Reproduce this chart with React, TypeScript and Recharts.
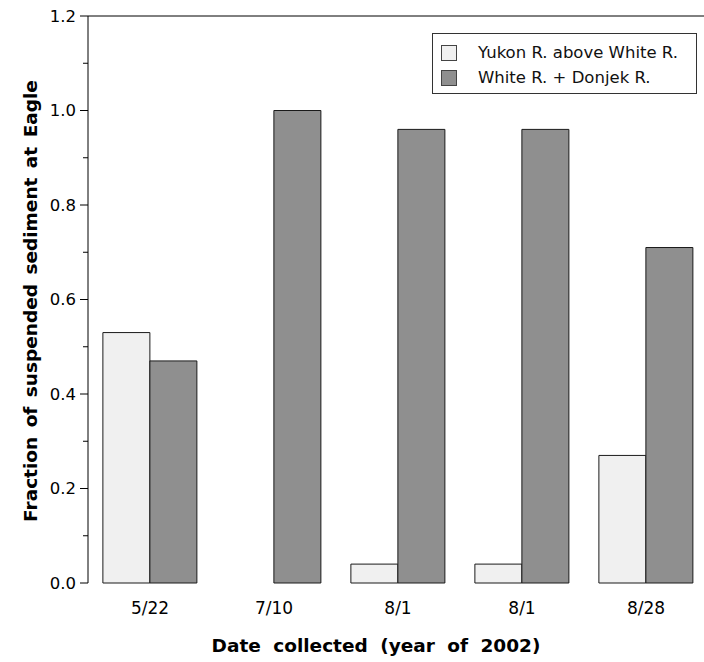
import React from 'react';
import { BarChart, Bar, XAxis, YAxis, ReferenceLine, Legend } from 'recharts';

const dates = ['5/22', '7/10', '8/1', '8/1', '8/28'];
const yukonAboveWhite = [0.53, 0, 0.04, 0.04, 0.27];
const whitePlusDonjek = [0.47, 1.0, 0.96, 0.96, 0.71];
const yTicks = [0, 0.1, 0.2, 0.3, 0.4, 0.5, 0.6, 0.7, 0.8, 0.9, 1.0, 1.1, 1.2];
const categoryEdges = [0, 1, 2, 3, 4, 5];

const data = dates.map((d, i) => ({
    date: d,
    yukon: yukonAboveWhite[i],
    white: whitePlusDonjek[i],
}));

const FONT = '"DejaVu Sans", Verdana, sans-serif';
const LIGHT = '#f0f0f0';
const DARK = '#8f8f8f';
const EDGE = '#1a1a1a';

const YTick = (props: any) => {
    const { x, y, payload } = props;
    const major = Math.round(payload.value * 10) % 2 === 0;
    return (
        <g>
            <line x1={x} x2={x - (major ? 8 : 5)} y1={y} y2={y} stroke="#000" strokeWidth={1} />
            {major && (
                <text x={x - 12} y={y} dy="0.36em" textAnchor="end" fontFamily={FONT} fontSize={16.5} fill="#000">
                    {payload.value.toFixed(1)}
                </text>
            )}
        </g>
    );
};

const LegendBox = () => (
    <div style={{
        border: '1px solid #333', background: '#fff', fontFamily: FONT, fontSize: 16.5,
        padding: '6px 8px 3px 8px', boxSizing: 'border-box', width: 265, color: '#111'
    }}>
        {[
            { name: 'Yukon R. above White R.', color: LIGHT },
            { name: 'White R. + Donjek R.', color: DARK },
        ].map((item) => (
            <div key={item.name} style={{ display: 'flex', alignItems: 'center', height: 25 }}>
                <span style={{
                    display: 'inline-block', width: 14, height: 14, background: item.color,
                    border: '1px solid #444', marginRight: 21
                }} />
                <span>{item.name}</span>
            </div>
        ))}
    </div>
);

export default function App() {
    return (
        <div style={{ position: 'absolute', left: 0, top: 0, width: 704, height: 662, overflow: 'hidden', background: '#fff' }}>
            <BarChart
                width={720}
                height={662}
                data={data}
                margin={{ top: 16, right: 12, bottom: 29, left: 28 }}
                barCategoryGap="12%"
                barGap={0}
            >
                <XAxis
                    xAxisId="edges"
                    type="number"
                    domain={[0, 5]}
                    ticks={categoryEdges}
                    allowDataOverflow
                    height={0}
                    tickSize={5}
                    tickFormatter={() => ''}
                    axisLine={{ stroke: '#000' }}
                    tickLine={{ stroke: '#000' }}
                />
                <XAxis
                    dataKey="date"
                    height={50}
                    axisLine={false}
                    tickLine={false}
                    tickSize={0}
                    tickMargin={19}
                    tick={{ fontFamily: FONT, fontSize: 17, fill: '#000' }}
                />
                <YAxis
                    width={60}
                    domain={[0, 1.2]}
                    ticks={yTicks}
                    interval={0}
                    tickSize={0}
                    tickMargin={0}
                    tickLine={false}
                    axisLine={{ stroke: '#000' }}
                    tick={<YTick />}
                />
                <ReferenceLine y={1.2} stroke="#000" strokeWidth={1} />
                <Legend
                    layout="vertical"
                    align="center"
                    verticalAlign="middle"
                    content={() => <LegendBox />}
                    wrapperStyle={{ position: 'absolute', top: 33, left: 432, width: 265 }}
                />
                <Bar dataKey="yukon" name="Yukon R. above White R." fill={LIGHT} stroke={EDGE} strokeWidth={1} isAnimationActive={false} />
                <Bar dataKey="white" name="White R. + Donjek R." fill={DARK} stroke={EDGE} strokeWidth={1} isAnimationActive={false} />
                <text
                    x={30}
                    y={301}
                    transform="rotate(-90 30 301)"
                    textAnchor="middle"
                    dominantBaseline="central"
                    fontFamily={FONT}
                    fontSize={18.5}
                    fontWeight="bold"
                    wordSpacing={3}
                    fill="#000"
                >
                    Fraction of suspended sediment at Eagle
                </text>
                <text
                    x={376}
                    y={645}
                    textAnchor="middle"
                    dominantBaseline="central"
                    fontFamily={FONT}
                    fontSize={18.5}
                    fontWeight="bold"
                    wordSpacing={6}
                    fill="#000"
                >
                    Date collected (year of 2002)
                </text>
            </BarChart>
        </div>
    );
}
